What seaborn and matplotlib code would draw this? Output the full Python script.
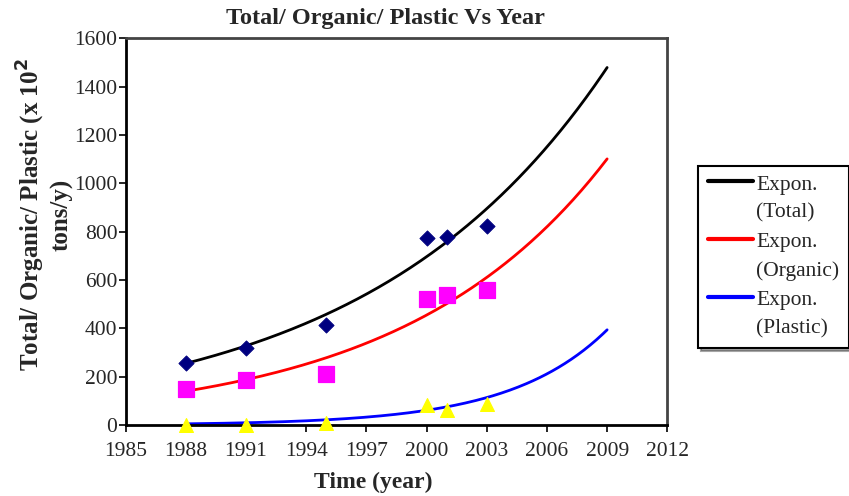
import numpy as np
import pandas as pd
import matplotlib
matplotlib.use("Agg")
import matplotlib.pyplot as plt
from matplotlib.legend_handler import HandlerLine2D
import seaborn as sns

# Observed quantities (x 10^2 tons/y)
years = [1988, 1991, 1995, 2000, 2001, 2003]
total = [256, 318, 413, 775, 778, 825]
organic = [148, 186, 213, 522, 540, 560]
plastic = [1, 2, 8, 84, 64, 88]

# Exponential trendlines y = a * exp(b * (year - 1988)), drawn 1988-2009
trend_names = ["Expon.\n(Total)", "Expon.\n(Organic)", "Expon.\n(Plastic)"]
trend_a = [255, 140, 5.1]
trend_b = [0.0837, 0.0982, 0.207]
trend_colors = ["black", "red", "blue"]
trend_span = [1988, 2009]

x_ticks = list(range(1985, 2013, 3))
y_ticks = list(range(0, 1601, 200))

LEG_FS = 15.5
LEG_LINESPACING = 1.6


class FirstLineHandler(HandlerLine2D):
    """Legend line aligned with the first line of a two-line label."""

    def create_artists(self, legend, orig_handle, xdescent, ydescent, width, height,
                       fontsize, trans):
        artists = super().create_artists(legend, orig_handle, xdescent, ydescent,
                                         width, height, fontsize, trans)
        for a in artists:
            if hasattr(a, "get_ydata"):
                a.set_ydata(np.asarray(a.get_ydata()) + 0.5 * LEG_LINESPACING * fontsize)
        return artists


sns.set_theme(style="white")
plt.rcParams["font.family"] = ["Liberation Serif", "DejaVu Serif"]

fig = plt.figure(figsize=(8.49, 4.96), dpi=100)
ax = fig.add_axes([0.148, 0.143, 0.638, 0.780])

pts = pd.DataFrame({"year": years, "Total": total, "Organic": organic, "Plastic": plastic})

# Fitted curves
xs = np.linspace(trend_span[0], trend_span[1], 200)
for name, a, b, c in zip(trend_names, trend_a, trend_b, trend_colors):
    curve = pd.DataFrame({"year": xs, "val": a * np.exp(b * (xs - 1988))})
    sns.lineplot(data=curve, x="year", y="val", color=c, linewidth=2.0, ax=ax, label=name)

# Data points
sns.scatterplot(data=pts, x="year", y="Total", marker="D", color="#000080", s=60,
                edgecolor="#000080", ax=ax, zorder=3, legend=False, clip_on=False)
sns.scatterplot(data=pts, x="year", y="Organic", marker="s", color="#FF00FF", s=120,
                edgecolor="#FF00FF", ax=ax, zorder=3, legend=False, clip_on=False)
sns.scatterplot(data=pts, x="year", y="Plastic", marker="^", color="#FFFF00", s=100,
                edgecolor="#FFFF00", ax=ax, zorder=3, legend=False, clip_on=False)

ax.set_xlim(1985, 2012)
ax.set_ylim(0, 1600)
ax.set_xticks(x_ticks)
ax.set_yticks(y_ticks)
ax.tick_params(axis="both", labelsize=15.5, direction="out", length=5, width=1.2,
               bottom=True, left=True, color="black", pad=1)
ax.tick_params(axis="x", pad=7)
for s in ax.spines.values():
    s.set_color("#444444")
    s.set_linewidth(2.0)
ax.spines["left"].set_color("black")
ax.spines["bottom"].set_color("black")

ax.set_title("Total/ Organic/ Plastic Vs Year", fontsize=17.5, fontweight="bold", pad=10,
             x=0.479)
ax.set_xlabel("Time (year)", fontsize=17, fontweight="bold")
ax.xaxis.set_label_coords(0.457, -0.122)
ax.set_ylabel("Total/ Organic/ Plastic (x 10$^{\\mathbf{2}}$\ntons/y)", fontsize=18,
              fontweight="bold")
ax.yaxis.set_label_coords(-0.096, 0.543)

handles, labels = ax.get_legend_handles_labels()
leg = ax.legend(handles, labels, loc="upper left", bbox_to_anchor=(1.057, 0.67),
                fontsize=LEG_FS, frameon=True, fancybox=False, shadow=True,
                handlelength=2.1, borderpad=0.45, labelspacing=0.5, handletextpad=0.15,
                borderaxespad=0, handler_map={h: FirstLineHandler() for h in handles})
leg.get_frame().set_edgecolor("black")
leg.get_frame().set_linewidth(1.5)
for t in leg.get_texts():
    t.set_linespacing(LEG_LINESPACING)
for line in leg.get_lines():
    line.set_linewidth(3)

fig.savefig("out.png", dpi=100)
